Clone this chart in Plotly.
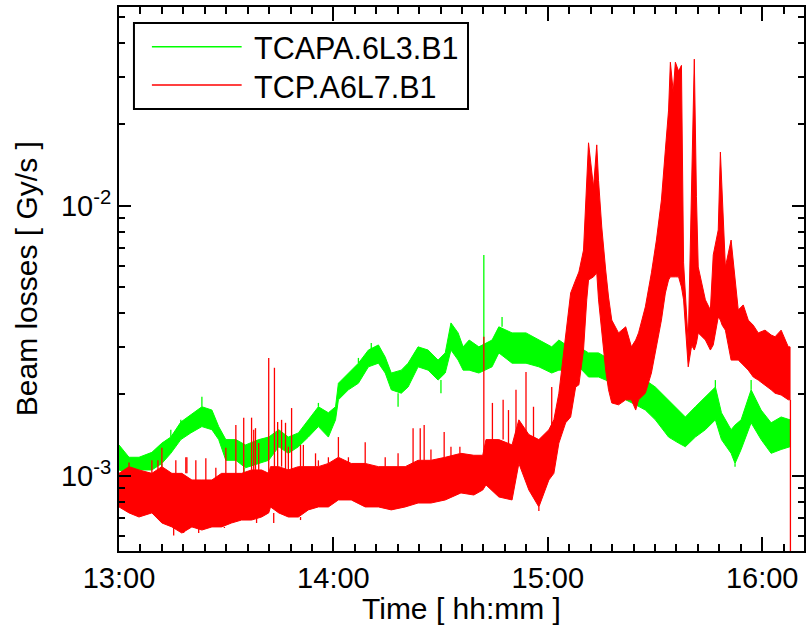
import datetime as dt
import plotly.graph_objects as go

# ---------------- data (time in minutes after 13:00, losses in Gy/s) ----------------
green_t = [0, 2.8, 5.6, 9.2, 12.0, 14.5, 17.3, 20.1, 23.2, 26.0, 27.9, 29.9, 32.7, 35.4, 39.1,
           41.9, 44.7, 47.4, 50.2, 53.0, 55.8, 58.6, 60.6, 61.4, 64.2, 67.0, 69.8, 72.6, 74.5,
           76.2, 79.0, 80.9, 83.7, 86.5, 89.3, 91.3, 92.9, 94.9, 96.3, 98.0, 100.7, 104.4, 106.3,
           110.0, 113.9, 117.5, 121.1, 123.1, 125.9, 128.7, 131.4, 134.2, 136.2, 138.4, 141.8,
           144.6, 147.3, 150.1, 153.8, 156.6, 158.5, 161.3, 164.1, 166.9, 168.6, 171.3, 172.4,
           174.1, 176.9, 179.7, 182.5, 185.3, 187.8]
green_hi = [0.00130, 0.00117, 0.00117, 0.00122, 0.00132, 0.00139, 0.00158, 0.00168, 0.00180, 0.00175,
            0.00152, 0.00136, 0.00136, 0.00130, 0.00136, 0.00139, 0.00148, 0.00139, 0.00144, 0.00161,
            0.00180, 0.00171, 0.00180, 0.00220, 0.00240, 0.00261, 0.00292, 0.00305, 0.00275, 0.00240,
            0.00246, 0.00261, 0.00300, 0.00292, 0.00268, 0.00285, 0.00368, 0.00338, 0.00300, 0.00318,
            0.00300, 0.00318, 0.00356, 0.00338, 0.00338, 0.00318, 0.00300, 0.00318, 0.00300, 0.00300,
            0.00285, 0.00285, 0.00275, 0.00268, 0.00236, 0.00226, 0.00226, 0.00213, 0.00191, 0.00175,
            0.00165, 0.00180, 0.00196, 0.00213, 0.00171, 0.00148, 0.00154, 0.00161, 0.00208, 0.00175,
            0.00157, 0.00165, 0.00161]
green_lo = [0.00105, 0.00102, 0.00105, 0.00105, 0.00111, 0.00121, 0.00136, 0.00144, 0.00152, 0.00148,
            0.00136, 0.00114, 0.00114, 0.00107, 0.00111, 0.00114, 0.00128, 0.00121, 0.00128, 0.00139,
            0.00152, 0.00139, 0.00161, 0.00191, 0.00208, 0.00220, 0.00253, 0.00261, 0.00240, 0.00208,
            0.00202, 0.00213, 0.00253, 0.00246, 0.00226, 0.00240, 0.00292, 0.00268, 0.00246, 0.00246,
            0.00240, 0.00253, 0.00285, 0.00261, 0.00261, 0.00253, 0.00240, 0.00246, 0.00246, 0.00253,
            0.00232, 0.00232, 0.00226, 0.00217, 0.00191, 0.00183, 0.00175, 0.00161, 0.00139, 0.00132,
            0.00128, 0.00139, 0.00148, 0.00161, 0.00136, 0.00121, 0.00111, 0.00125, 0.00157, 0.00136,
            0.00121, 0.00125, 0.00128]
# isolated excursions of the green trace (upwards and downwards)
green_spike_t = [14.5, 17.3, 23.2, 55.8, 67.0, 70.6, 102.1, 107.2, 166.9, 176.9,
                 12.0, 35.0, 78.1, 90.1, 172.4]
green_spike_base = [0.00139, 0.00158, 0.00180, 0.00180, 0.00261, 0.00292, 0.00300, 0.00356, 0.00213,
                    0.00208, 0.00111, 0.00107, 0.00202, 0.00226, 0.00111]
green_spike_peak = [0.00148, 0.00161, 0.00196, 0.00186, 0.00273, 0.00310, 0.00657, 0.00387, 0.00226,
                    0.00226, 0.00104, 0.00103, 0.00180, 0.00202, 0.00108]

red_t = [0, 2.8, 5.6, 9.2, 12.0, 14.8, 17.6, 20.4, 23.2, 26.0, 28.7, 31.5, 34.3, 37.1, 39.9, 41.9,
         42.4, 44.7, 47.4, 50.2, 53.0, 55.8, 58.6, 61.4, 65.0, 68.9, 72.6, 76.2, 80.1, 83.7, 87.3,
         91.3, 95.7, 99.3, 101.8, 102.7, 106.3, 110.0, 111.9, 114.7, 117.5, 120.3, 121.7, 123.1,
         125.0, 126.4, 127.8, 128.7, 130.0, 130.9, 131.4, 132.8, 133.7, 134.2, 135.1, 136.2, 137.0,
         137.9, 139.8, 141.8, 143.4, 144.6, 145.4, 147.3, 149.0, 150.4, 151.8, 152.9, 153.8, 154.3,
         155.1, 155.7, 156.6, 157.4, 158.0, 159.3, 160.2, 160.5, 161.0, 161.6, 162.1, 164.1, 165.5,
         166.3, 167.7, 168.3, 168.8, 169.7, 171.3, 172.4, 173.3, 174.7, 176.1, 177.5, 178.9, 180.8,
         182.5, 183.6, 185.3, 187.3, 187.8]
red_hi = [0.00102, 0.00108, 0.00105, 0.00102, 0.00108, 0.00102, 0.00102, 0.000964, 0.000964, 0.000964,
          0.00102, 0.00102, 0.00102, 0.00105, 0.00105, 0.00102, 0.00108, 0.00108, 0.00105, 0.00108,
          0.00108, 0.00108, 0.00111, 0.00117, 0.00111, 0.00111, 0.00108, 0.00108, 0.00108, 0.00114,
          0.00114, 0.00117, 0.00121, 0.00119, 0.00119, 0.00136, 0.00136, 0.00130, 0.00161, 0.00142,
          0.00136, 0.00148, 0.00161, 0.00202, 0.00338, 0.00475, 0.00531, 0.00568, 0.00685, 0.0135,
          0.0171, 0.0117, 0.0168, 0.0124, 0.00834, 0.00578, 0.00459, 0.00377, 0.00338, 0.00356,
          0.00300, 0.00318, 0.00338, 0.00422, 0.00564, 0.00746, 0.0105, 0.0161, 0.0226, 0.0340,
          0.0264, 0.0340, 0.0315, 0.0331, 0.00614, 0.00310, 0.0105, 0.0161, 0.0349, 0.0108,
          0.00593, 0.00448, 0.00411, 0.00657, 0.00813, 0.0158, 0.0105, 0.00593, 0.00746, 0.00531,
          0.00411, 0.00429, 0.00377, 0.00361, 0.00338, 0.00346, 0.00332, 0.00327, 0.00346, 0.00300,
          0.00300]
red_lo = [0.000766, 0.000728, 0.000703, 0.000728, 0.000668, 0.000646, 0.000613, 0.000646, 0.000629,
          0.000646, 0.000646, 0.000668, 0.000685, 0.000685, 0.000703, 0.000728, 0.000766, 0.000728,
          0.000703, 0.000703, 0.000747, 0.000766, 0.000766, 0.000813, 0.000813, 0.000766, 0.000766,
          0.000747, 0.000766, 0.000792, 0.000792, 0.000813, 0.000863, 0.000848, 0.000885, 0.000924,
          0.000834, 0.000813, 0.00111, 0.000885, 0.000766, 0.000964, 0.00102, 0.00132, 0.00157,
          0.00165, 0.00213, 0.00217, 0.00292, 0.00448, 0.00531, 0.00545, 0.00564, 0.00448, 0.00338,
          0.00246, 0.00208, 0.00186, 0.00183, 0.00191, 0.00191, 0.00175, 0.00191, 0.00202, 0.00240,
          0.00305, 0.00377, 0.00475, 0.00531, 0.00545, 0.00545, 0.00545, 0.00545, 0.00500, 0.00448,
          0.00253, 0.00300, 0.00300, 0.00292, 0.00310, 0.00338, 0.00318, 0.00292, 0.00305, 0.00387,
          0.00377, 0.00361, 0.00346, 0.00268, 0.00268, 0.00268, 0.00257, 0.00246, 0.00232, 0.00226,
          0.00217, 0.00208, 0.00202, 0.00199, 0.00191, 0.00191]
# isolated excursions of the red trace (upwards above / downwards below its band, final drop-out)
red_spike_t = [2.8, 9.2, 10.9, 12.0, 15.9, 18.7, 19.0, 21.5, 24.3, 27.1, 29.9, 32.7, 34.9, 37.1,
               37.7, 38.2, 39.1, 41.9, 43.5, 44.4, 45.5, 46.6, 47.4, 48.3, 50.8, 51.6, 55.0, 55.8,
               58.6, 61.4, 64.2, 68.9, 74.5, 78.1, 82.3, 84.3, 85.4, 87.3, 91.0, 92.9, 95.4, 102.1,
               104.5, 107.5, 109.0, 111.1, 113.9, 116.0, 121.1,
               15.3, 18.1, 22.3, 29.5, 38.5, 43.3, 50.8, 117.5, 187.9]
red_spike_base = [0.00108, 0.00102, 0.00105, 0.00108, 0.00102, 0.00102, 0.00102, 0.000964, 0.000964,
                  0.000964, 0.00102, 0.00102, 0.00102, 0.00105, 0.00105, 0.00105, 0.00105, 0.00102,
                  0.00108, 0.00108, 0.00108, 0.00105, 0.00105, 0.00105, 0.00108, 0.00108, 0.00108,
                  0.00108, 0.00111, 0.00117, 0.00111, 0.00111, 0.00108, 0.00108, 0.00110, 0.00114,
                  0.00114, 0.00114, 0.00117, 0.00117, 0.00121, 0.00119, 0.00136, 0.00136, 0.00130,
                  0.00130, 0.00142, 0.00136, 0.00150,
                  0.000646, 0.000613, 0.000646, 0.000646, 0.000703, 0.000728, 0.000703, 0.000766,
                  0.00191]
red_spike_peak = [0.00112, 0.00114, 0.00114, 0.00127, 0.00114, 0.00117, 0.00117, 0.00114, 0.00116,
                  0.00107, 0.00127, 0.00154, 0.00164, 0.00164, 0.00148, 0.00150, 0.00132, 0.00273,
                  0.00251, 0.00158, 0.00161, 0.00157, 0.00128, 0.00178, 0.00130, 0.00130, 0.00121,
                  0.00114, 0.00117, 0.00139, 0.00117, 0.00133, 0.00117, 0.00121, 0.00150, 0.00150,
                  0.00154, 0.00125, 0.00145, 0.00128, 0.00128, 0.00327, 0.00186, 0.00191, 0.00175,
                  0.00208, 0.00242, 0.00180, 0.00213,
                  0.000600, 0.000630, 0.000613, 0.000640, 0.000668, 0.000668, 0.000685, 0.000740,
                  0.0001]

series_names = ["TCAPA.6L3.B1", "TCP.A6L7.B1"]
series_colors = ["#00ff00", "#ff0000"]
x_range_min = [0, 191.7]
y_major_ticks = [1e-3, 1e-2]
y_major_text = ["10<sup>-3</sup>", "10<sup>-2</sup>"]
y_minor_ticks = [m * 10.0 ** e for e in (-4, -3, -2) for m in range(2, 10)]

# ---------------- helpers ----------------
BASE = dt.datetime(2012, 5, 1, 13, 0, 0)


def ts(m):
    return (BASE + dt.timedelta(minutes=m)).strftime("%Y-%m-%d %H:%M:%S.%f")


def band(t, hi, lo):
    x = [ts(v) for v in t] + [ts(v) for v in t[::-1]]
    y = list(hi) + list(lo[::-1])
    return x, y


def spikes(t, base, peak):
    x, y = [], []
    for a, b, c in zip(t, base, peak):
        x += [ts(a), ts(a), None]
        y += [b, c, None]
    return x, y


FONT = "Liberation Sans, Arial, Helvetica, sans-serif"
fig = go.Figure()

for (t, hi, lo, st, sb, sp), name, col in zip(
        [(green_t, green_hi, green_lo, green_spike_t, green_spike_base, green_spike_peak),
         (red_t, red_hi, red_lo, red_spike_t, red_spike_base, red_spike_peak)],
        series_names, series_colors):
    bx, by = band(t, hi, lo)
    fig.add_trace(go.Scatter(x=bx, y=by, mode="lines", fill="toself", fillcolor=col,
                             line=dict(color=col, width=1), name=name, showlegend=False,
                             hoverinfo="skip"))
    sx, sy = spikes(st, sb, sp)
    fig.add_trace(go.Scatter(x=sx, y=sy, mode="lines", line=dict(color=col, width=1.3),
                             showlegend=False, hoverinfo="skip", connectgaps=False))

fig.update_layout(
    width=807, height=631,
    margin=dict(l=119, r=1, t=7, b=80, pad=0),
    paper_bgcolor="white", plot_bgcolor="white",
    font=dict(family=FONT, size=29, color="black"),
    showlegend=False,
    xaxis=dict(type="date", range=[ts(x_range_min[0]), ts(x_range_min[1])],
               showline=True, linecolor="black", linewidth=2, mirror="allticks",
               ticks="inside", ticklen=14, tickwidth=1.5, tickcolor="black",
               dtick=3600000, tick0=ts(0), tickformat="%H:%M",
               tickfont=dict(family=FONT, size=29, color="black"),
               showgrid=False, zeroline=False,
               minor=dict(ticks="inside", ticklen=7, tickwidth=1.5, tickcolor="black",
                          dtick=360000, showgrid=False)),
    yaxis=dict(type="log", range=[-3.279, -1.264],
               showline=True, linecolor="black", linewidth=2, mirror="allticks",
               ticks="inside", ticklen=12, tickwidth=1.5, tickcolor="black",
               tickmode="array", tickvals=y_major_ticks, ticktext=y_major_text,
               tickfont=dict(family=FONT, size=29, color="black"),
               showgrid=False, zeroline=False,
               minor=dict(ticks="inside", ticklen=6, tickwidth=1.5, tickcolor="black",
                          tickmode="array", tickvals=y_minor_ticks, showgrid=False)),
)

# axis titles
fig.add_annotation(text="Time [ hh:mm ]", xref="paper", yref="paper", x=0.5, y=-0.1048,
                   xanchor="center", yanchor="middle", showarrow=False,
                   font=dict(family=FONT, size=30, color="black"))
fig.add_annotation(text="Beam losses [ Gy/s ]", xref="paper", yref="paper", x=-0.1354, y=0.5,
                   xanchor="center", yanchor="middle", textangle=-90, showarrow=False,
                   font=dict(family=FONT, size=30, color="black"))

# legend box
fig.add_shape(type="rect", xref="paper", yref="paper", x0=0.02183, x1=0.5095, y0=0.8125, y1=0.9706,
              line=dict(color="black", width=2), fillcolor="white", layer="above")
for yy, ty, name, col in [(0.9270, 0.9241, series_names[0], series_colors[0]),
                          (0.8566, 0.8535, series_names[1], series_colors[1])]:
    fig.add_shape(type="line", xref="paper", yref="paper", x0=0.04803, x1=0.17904, y0=yy, y1=yy,
                  line=dict(color=col, width=1.5), layer="above")
    fig.add_annotation(text=name, xref="paper", yref="paper", x=0.1935, y=ty,
                       xanchor="left", yanchor="middle", showarrow=False,
                       font=dict(family=FONT, size=30.5, color="black"))

fig.write_html("out.html")
